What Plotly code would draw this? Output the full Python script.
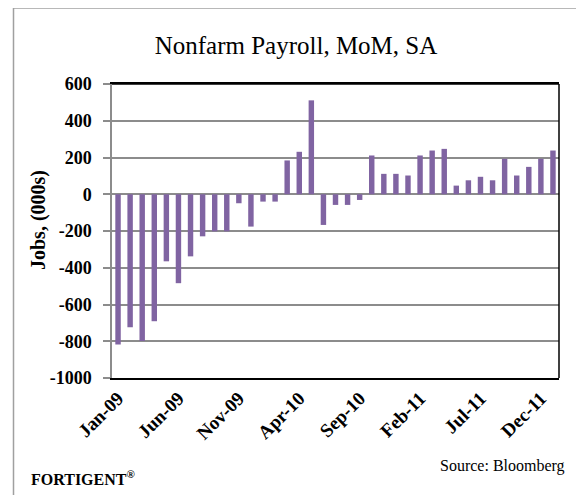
import plotly.graph_objects as go

months = ["Jan-09","Feb-09","Mar-09","Apr-09","May-09","Jun-09","Jul-09","Aug-09","Sep-09","Oct-09","Nov-09","Dec-09",
          "Jan-10","Feb-10","Mar-10","Apr-10","May-10","Jun-10","Jul-10","Aug-10","Sep-10","Oct-10","Nov-10","Dec-10",
          "Jan-11","Feb-11","Mar-11","Apr-11","May-11","Jun-11","Jul-11","Aug-11","Sep-11","Oct-11","Nov-11","Dec-11",
          "Jan-12"]
payrolls = [-818, -724, -799, -691, -365, -484, -338, -229, -202, -202, -49, -176,
            -40, -40, 184, 231, 511, -167, -58, -58, -31, 211, 111, 111,
            102, 211, 238, 247, 47, 76, 95, 76, 193, 102, 149, 193,
            238]
tick_labels = ["Jan-09","Jun-09","Nov-09","Apr-10","Sep-10","Feb-11","Jul-11","Dec-11"]
y_ticks = [600, 400, 200, 0, -200, -400, -600, -800, -1000]

serif = "Liberation Serif"

fig = go.Figure(go.Bar(x=months, y=payrolls, marker_color="#8064A2", marker_line_width=0))

# the page adds an 8px body margin, so the figure is drawn 8px smaller and shifted
fig.update_layout(
    width=576, height=487,
    margin=dict(l=104, r=25, t=76, b=117),
    paper_bgcolor="white", plot_bgcolor="white",
    bargap=0.55,
    showlegend=False,
    title=dict(text="Nonfarm Payroll, MoM, SA", x=0.5, xanchor="center", y=1 - 37 / 487, yanchor="middle",
               font=dict(family=serif, size=25, color="black")),
    font=dict(family=serif, color="black"),
)
fig.update_xaxes(
    type="category", range=[-0.5, 36.5],
    tickmode="array", tickvals=tick_labels, ticktext=tick_labels,
    tickangle=-45, tickfont=dict(family=serif, size=19, color="black", weight="bold"),
    showgrid=False, showline=True, linecolor="black", linewidth=1.5, mirror=True,
    ticks="", zeroline=False,
)
fig.update_yaxes(
    range=[-1000, 600], tickmode="array", tickvals=y_ticks, ticktext=[str(v) for v in y_ticks],
    tickfont=dict(family=serif, size=18, color="black", weight="bold"),
    showgrid=True, gridcolor="#8c8c8c", gridwidth=1.5,
    showline=True, linecolor="#8c8c8c", linewidth=1.5,
    ticks="outside", ticklen=7, tickcolor="#8c8c8c", tickwidth=1.5,
    ticklabelstandoff=8,
    zeroline=False,
)
# black border on top and right of plot area
fig.add_shape(type="line", xref="paper", yref="paper", x0=0, x1=1, y0=1, y1=1, line=dict(color="black", width=1.5))
fig.add_shape(type="line", xref="paper", yref="paper", x0=1, x1=1, y0=0, y1=1, line=dict(color="black", width=1.5))

# outer frame (left and top), positions in page pixels
W, H = 447.0, 294.0
def px_x(p):
    return (p - 112) / W
def px_y(p):
    return (378 - p) / H
fig.add_shape(type="line", xref="paper", yref="paper", x0=px_x(13.5), x1=px_x(600), y0=px_y(8), y1=px_y(8),
              line=dict(color="#a0a0a0", width=1.5))
fig.add_shape(type="line", xref="paper", yref="paper", x0=px_x(13.5), x1=px_x(13.5), y0=px_y(8), y1=px_y(500),
              line=dict(color="#a0a0a0", width=1.5))

fig.add_annotation(text="Jobs, (000s)", xref="paper", yref="paper", x=px_x(38), y=px_y(220),
                   xanchor="center", yanchor="middle", textangle=-90, showarrow=False,
                   font=dict(family=serif, size=20, color="black", weight="bold"))
fig.add_annotation(text="FORTIGENT<sup>®</sup>", xref="paper", yref="paper", x=px_x(29), y=px_y(478),
                   xanchor="left", yanchor="middle", showarrow=False,
                   font=dict(family=serif, size=16, color="black", weight="bold"))
fig.add_annotation(text="Source: Bloomberg", xref="paper", yref="paper", x=px_x(567), y=px_y(466),
                   xanchor="right", yanchor="middle", showarrow=False,
                   font=dict(family=serif, size=16, color="black"))

fig.write_html("out.html")
